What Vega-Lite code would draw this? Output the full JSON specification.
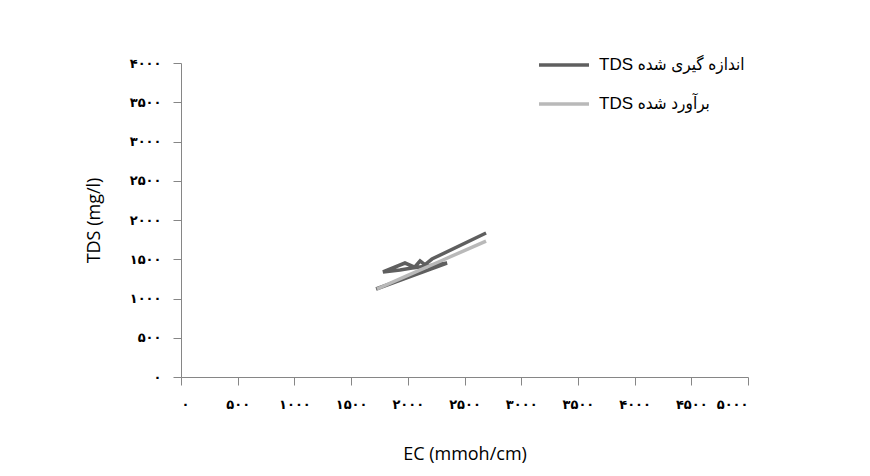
{
  "$schema": "https://vega.github.io/schema/vega-lite/v6.json",
  "width": 567,
  "height": 314,
  "autosize": {"type": "none"},
  "padding": {"left": 181, "top": 63, "right": 122, "bottom": 99},
  "background": "white",
  "config": {"view": {"stroke": null}},
  "data": {
    "values": [
      {"series": "TDS اندازه گیری شده", "i": 1, "ec": 1720, "tds": 1121},
      {"series": "TDS اندازه گیری شده", "i": 2, "ec": 2346, "tds": 1452},
      {"series": "TDS اندازه گیری شده", "i": 3, "ec": 2178, "tds": 1414},
      {"series": "TDS اندازه گیری شده", "i": 4, "ec": 2037, "tds": 1389},
      {"series": "TDS اندازه گیری شده", "i": 5, "ec": 1931, "tds": 1363},
      {"series": "TDS اندازه گیری شده", "i": 6, "ec": 1781, "tds": 1338},
      {"series": "TDS اندازه گیری شده", "i": 7, "ec": 1975, "tds": 1452},
      {"series": "TDS اندازه گیری شده", "i": 8, "ec": 2060, "tds": 1400},
      {"series": "TDS اندازه گیری شده", "i": 9, "ec": 2108, "tds": 1478},
      {"series": "TDS اندازه گیری شده", "i": 10, "ec": 2150, "tds": 1430},
      {"series": "TDS اندازه گیری شده", "i": 11, "ec": 2213, "tds": 1503},
      {"series": "TDS اندازه گیری شده", "i": 12, "ec": 2690, "tds": 1834},
      {"series": "TDS برآورد شده", "i": 1, "ec": 1728, "tds": 1121},
      {"series": "TDS برآورد شده", "i": 2, "ec": 2000, "tds": 1294},
      {"series": "TDS برآورد شده", "i": 3, "ec": 2300, "tds": 1484},
      {"series": "TDS برآورد شده", "i": 4, "ec": 2690, "tds": 1732}
    ]
  },
  "mark": {"type": "line", "strokeWidth": 3.5, "strokeCap": "butt"},
  "encoding": {
    "x": {
      "field": "ec", "type": "quantitative",
      "scale": {"domain": [0, 5000], "nice": false},
      "axis": {
        "values": [0, 500, 1000, 1500, 2000, 2500, 3000, 3500, 4000, 4500, 5000],
        "format": "d",
        "labelExpr": "replace(replace(replace(replace(replace(replace(datum.label, regexp('0','g'), '۰'), regexp('1','g'), '۱'), regexp('2','g'), '۲'), regexp('3','g'), '۳'), regexp('4','g'), '۴'), regexp('5','g'), '۵')",
        "title": "EC (mmoh/cm)",
        "grid": false,
        "domainColor": "#868686",
        "tickColor": "#868686",
        "tickSize": 8,
        "labelFont": "DejaVu Sans",
        "labelFontSize": 13,
        "labelFontWeight": "bold",
        "labelColor": "#000000",
        "labelPadding": 13,
        "labelOverlap": false,
        "titleFont": "Open Sans",
        "titleFontSize": 18,
        "titleFontWeight": "normal",
        "titleColor": "#000000",
        "titlePadding": 34
      }
    },
    "y": {
      "field": "tds", "type": "quantitative",
      "scale": {"domain": [0, 4000], "nice": false},
      "axis": {
        "values": [0, 500, 1000, 1500, 2000, 2500, 3000, 3500, 4000],
        "format": "d",
        "labelExpr": "replace(replace(replace(replace(replace(replace(datum.label, regexp('0','g'), '۰'), regexp('1','g'), '۱'), regexp('2','g'), '۲'), regexp('3','g'), '۳'), regexp('4','g'), '۴'), regexp('5','g'), '۵')",
        "title": "TDS (mg/l)",
        "grid": false,
        "domainColor": "#868686",
        "tickColor": "#868686",
        "tickSize": 8,
        "labelFont": "DejaVu Sans",
        "labelFontSize": 13,
        "labelFontWeight": "bold",
        "labelColor": "#000000",
        "labelPadding": 12,
        "titleFont": "Open Sans",
        "titleFontSize": 18,
        "titleFontWeight": "normal",
        "titleColor": "#000000",
        "titlePadding": 26
      }
    },
    "color": {
      "field": "series", "type": "nominal",
      "scale": {"domain": ["TDS اندازه گیری شده", "TDS برآورد شده"], "range": ["#5f5f5f", "#b9b9b9"]},
      "legend": {
        "title": null,
        "orient": "none",
        "legendX": 356,
        "legendY": -25,
        "symbolType": "stroke",
        "symbolSize": 2500,
        "symbolStrokeWidth": 3.5,
        "labelFont": "Liberation Sans, DejaVu Sans Condensed, DejaVu Sans",
        "labelFontSize": 17,
        "labelColor": "#000000",
        "labelOffset": 8,
        "rowPadding": 4,
        "labelLimit": 300
      }
    },
    "order": {"field": "i", "type": "quantitative"}
  }
}
